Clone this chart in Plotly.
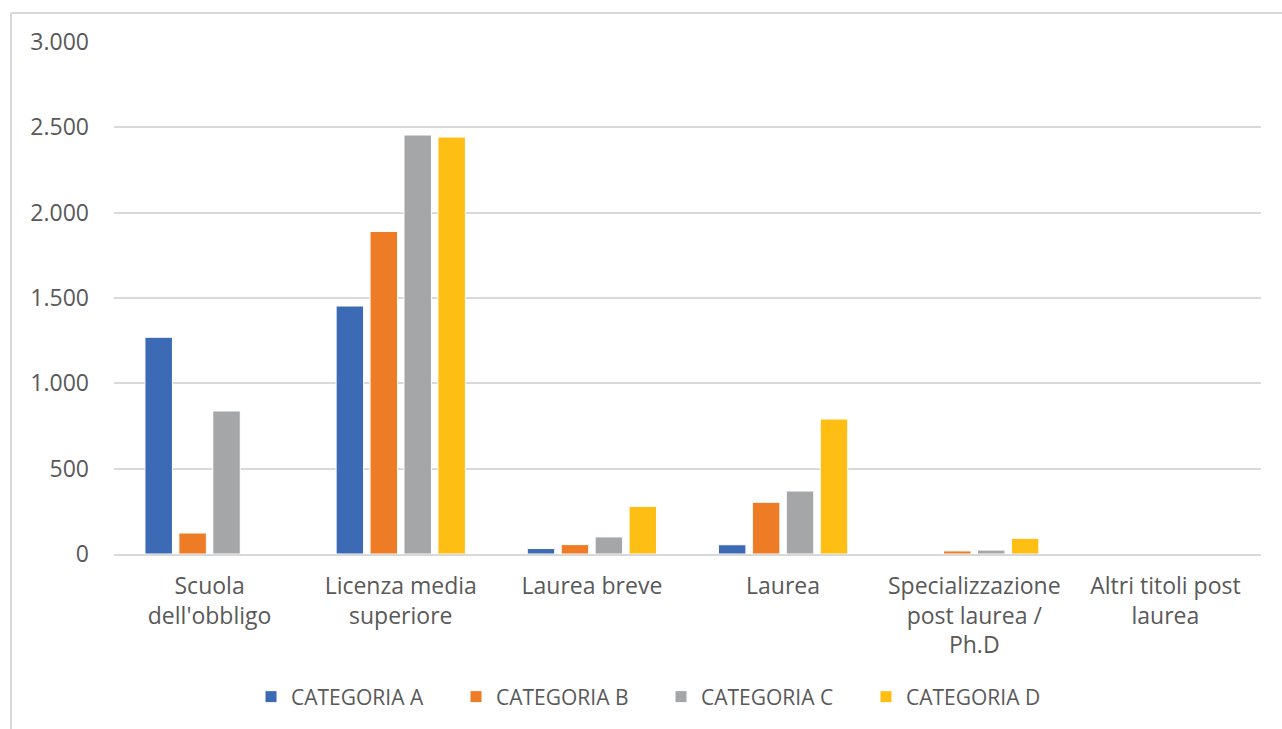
import plotly.graph_objects as go

categories = ["Scuola<br>dell'obbligo", "Licenza media<br>superiore", "Laurea breve", "Laurea",
              "Specializzazione<br>post laurea /<br>Ph.D", "Altri titoli post<br>laurea"]
series_names = ["CATEGORIA A", "CATEGORIA B", "CATEGORIA C", "CATEGORIA D"]
cat_a = [1270, 1453, 32, 54, 0, 0]
cat_b = [123, 1890, 55, 303, 18, 0]
cat_c = [838, 2455, 100, 369, 23, 0]
cat_d = [0, 2443, 279, 791, 92, 0]
colors = ["#3C6AB4", "#EE7B25", "#A5A6A8", "#FEBE14"]
tick_vals = [0, 500, 1000, 1500, 2000, 2500, 3000]
tick_text = ["0", "500", "1.000", "1.500", "2.000", "2.500", "3.000"]

W, H = 1282, 729
L, R, T, B = 114, 21, 42, 175

fig = go.Figure()
for name, vals, col in zip(series_names, [cat_a, cat_b, cat_c, cat_d], colors):
    fig.add_trace(go.Bar(x=categories, y=vals, name=name,
                         marker=dict(color=col, line=dict(color="white", width=1))))

font_fam = "Open Sans"
txt = "#595959"
pw = W - L - R
ph = H - T - B

def px_x(x):
    return (x - L) / pw

def px_y(y):
    return (H - B - y) / ph

fig.update_layout(
    width=W, height=H,
    margin=dict(l=L, r=R, t=T, b=B, pad=0),
    paper_bgcolor="white", plot_bgcolor="white",
    barmode="group", bargap=0.29, bargroupgap=0.19,
    font=dict(family=font_fam, color=txt, size=22),
    xaxis=dict(showgrid=False, showline=True, linecolor="#D9D9D9", linewidth=2,
               ticks="", tickfont=dict(size=23, color=txt), ticklabelstandoff=10),
    yaxis=dict(range=[0, 3000], tickvals=tick_vals, ticktext=tick_text,
               showgrid=True, gridcolor="#D9D9D9", gridwidth=2, zeroline=False,
               showline=False, ticks="", tickfont=dict(size=23, color=txt),
               ticklabelstandoff=24),
    legend=dict(orientation="h", x=px_x(661), xanchor="center", y=px_y(697), yanchor="middle",
                font=dict(size=21, color=txt), bgcolor="rgba(0,0,0,0)",
                entrywidth=160, entrywidthmode="pixels",
                itemclick=False, tracegroupgap=0),
    showlegend=True,
    shapes=[
        dict(type="line", xref="paper", yref="paper", x0=px_x(11), x1=px_x(1282), y0=px_y(13), y1=px_y(13),
             line=dict(color="#D9D9D9", width=2)),
        dict(type="line", xref="paper", yref="paper", x0=px_x(11), x1=px_x(11), y0=px_y(13), y1=px_y(729),
             line=dict(color="#D9D9D9", width=2)),
    ],
)

fig.write_html("out.html")
